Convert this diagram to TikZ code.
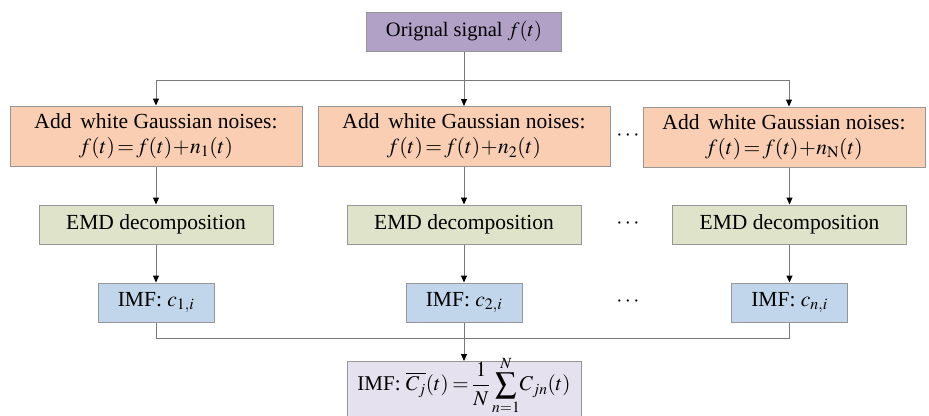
\documentclass[tikz,border=0pt]{standalone}
\usepackage{mathptmx}
\usepackage[no-math]{fontspec}
\setmainfont{Liberation Serif}
\usetikzlibrary{arrows.meta}
\definecolor{cpurple}{RGB}{178,161,199}
\definecolor{corange}{RGB}{249,206,178}
\definecolor{cgreen}{RGB}{223,227,202}
\definecolor{cblue}{RGB}{194,214,235}
\definecolor{clav}{RGB}{229,225,238}
\definecolor{cborder}{RGB}{150,150,150}
\definecolor{cline}{RGB}{120,120,120}
\begin{document}
\begin{tikzpicture}[x=1pt,y=-1pt,
  box/.style={draw=cborder,line width=1pt,inner sep=0pt,align=center,font=\fontsize{21.5}{25}\selectfont},
  conn/.style={draw=cline,line width=1pt},
  arr/.style={conn,-{Triangle[length=7pt,width=6pt,fill=black,color=black]}},
  dotsl/.style={font=\fontsize{22}{24}\selectfont}]
\useasboundingbox (0,0) rectangle (929,415);
\node[box,fill=cpurple,minimum width=195pt,minimum height=39pt,font=\fontsize{20.5}{24}\selectfont] (top) at (464,31.5) {Orignal signal $f(t)$};
\node[box,fill=corange,minimum width=292pt,minimum height=60pt] (a1) at (156,136) {Add\, white Gaussian noises:\\$f(t)\!=\!f(t)\!+\!n_1(t)$};
\node[box,fill=corange,minimum width=292pt,minimum height=60pt] (a2) at (464,136.5) {Add\, white Gaussian noises:\\$f(t)\!=\!f(t)\!+\!n_2(t)$};
\node[box,fill=corange,minimum width=282pt,minimum height=60pt] (a3) at (784,137) {Add\, white Gaussian noises:\\$f(t)\!=\!f(t)\!+\!n_{\mathrm{N}}(t)$};
\node[box,fill=cgreen,minimum width=234pt,minimum height=39pt] (e1) at (156,224.5) {EMD decomposition};
\node[box,fill=cgreen,minimum width=234pt,minimum height=39pt] (e2) at (464,224.5) {EMD decomposition};
\node[box,fill=cgreen,minimum width=234pt,minimum height=39pt] (e3) at (789.5,224.5) {EMD decomposition};
\node[box,fill=cblue,minimum width=116pt,minimum height=39pt] (i1) at (156,302.5) {IMF: $c_{1,i}$};
\node[box,fill=cblue,minimum width=116pt,minimum height=39pt] (i2) at (464,302.5) {IMF: $c_{2,i}$};
\node[box,fill=cblue,minimum width=116pt,minimum height=39pt] (i3) at (789.5,302.5) {IMF: $c_{n,i}$};
\node[box,fill=clav,minimum width=234pt,minimum height=60pt,anchor=north,font=\fontsize{21}{24}\selectfont] (res) at (464,361) {\raisebox{6pt}[\height][\depth]{IMF: $\thickmuskip=3mu\overline{C_j}(t)=\displaystyle\frac{1}{N}\sum_{n=1}^{N}\!C_{jn}(t)$}};
\node[dotsl] (d1) at (628,136) {$\cdots$};
\node[dotsl] (d2) at (628,224) {$\cdots$};
\node[dotsl] (d3) at (628,302) {$\cdots$};
\coordinate (sp) at (464,80);
\coordinate (jn) at (464,338);
\draw[conn] (top.south) -- (sp);
\draw[arr] (sp) -- (a2.north);
\draw[arr] (sp) -| (a1.north);
\draw[arr] (sp) -| ([xshift=5pt]a3.north);
\draw[arr] (a1.south) -- (e1.north);
\draw[arr] (a2.south) -- (e2.north);
\draw[arr] ([xshift=5.5pt]a3.south) -- (e3.north);
\draw[arr] (e1.south) -- (i1.north);
\draw[arr] (e2.south) -- (i2.north);
\draw[arr] (e3.south) -- (i3.north);
\draw[conn] (i1.south) |- (jn);
\draw[conn] (i3.south) |- (jn);
\draw[conn] (i2.south) -- (jn);
\draw[arr] (jn) -- (res.north);
\end{tikzpicture}
\end{document}
